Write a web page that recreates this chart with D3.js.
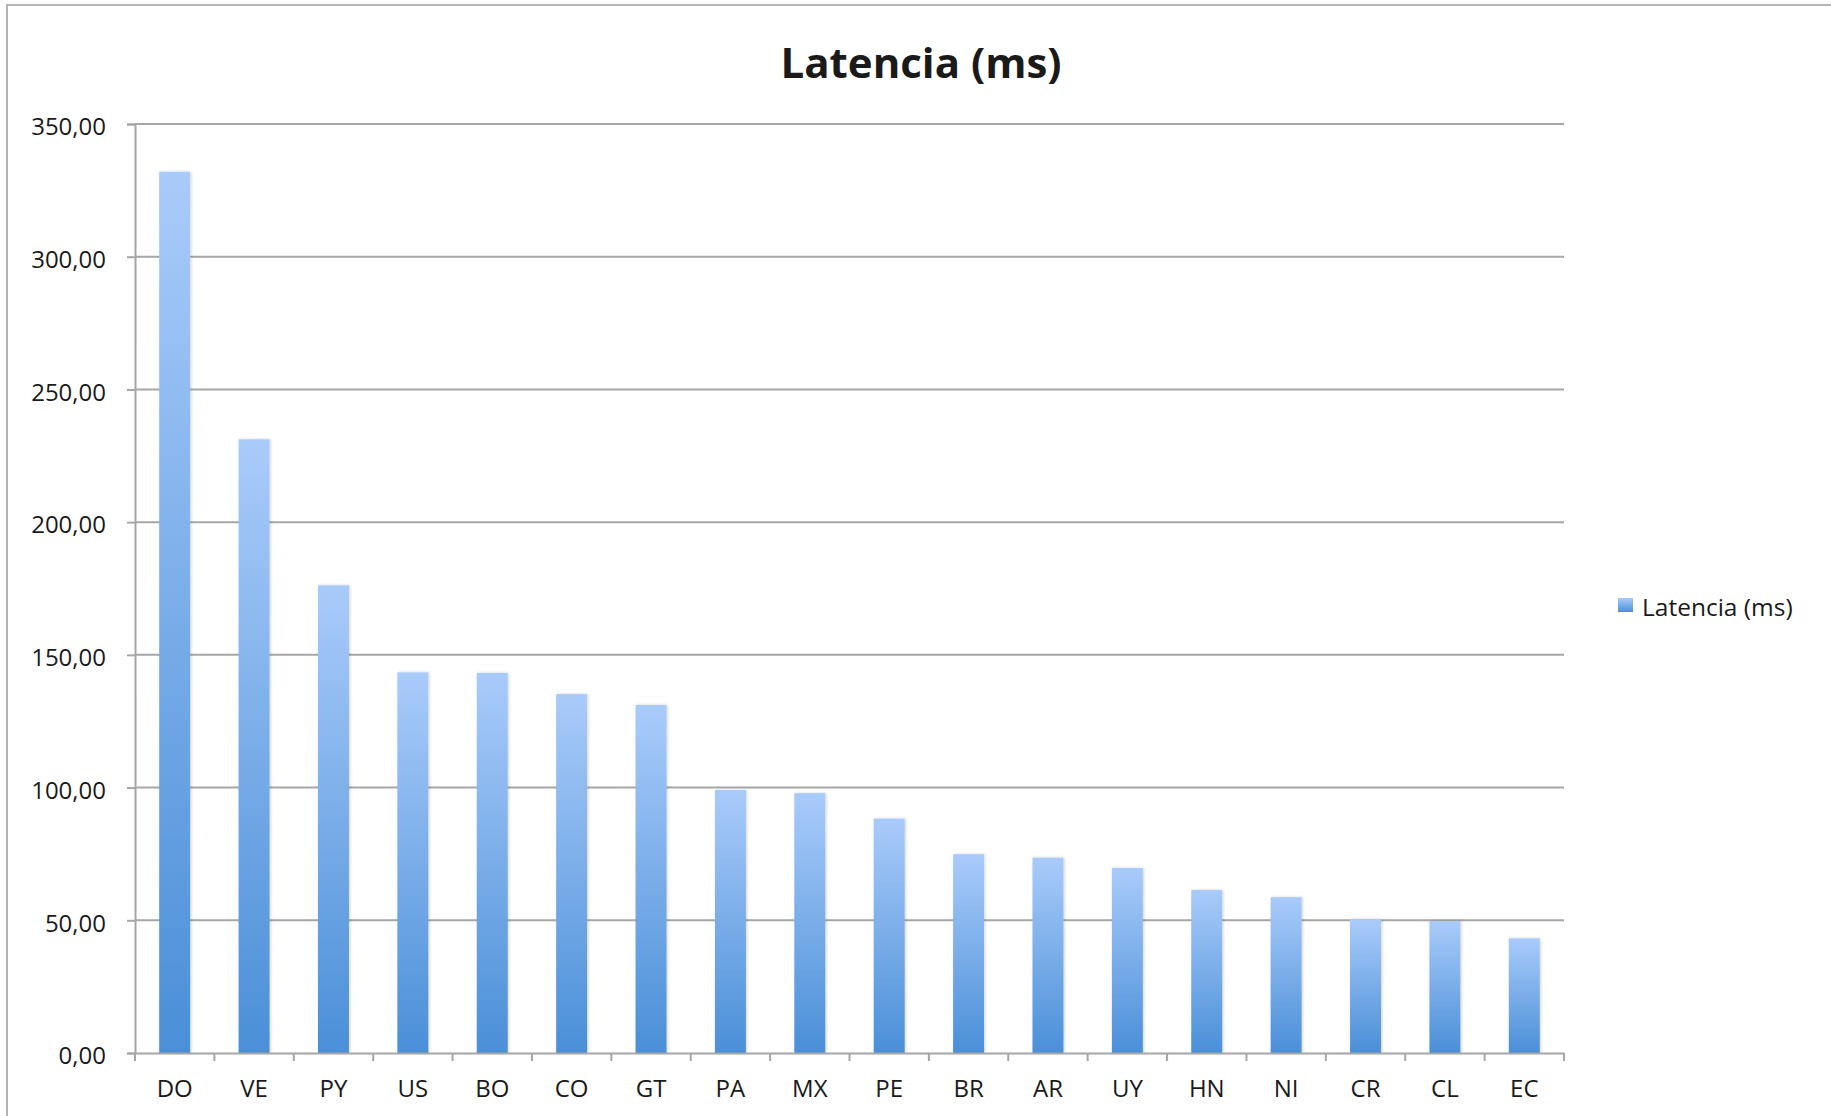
<!DOCTYPE html>
<html lang="es">
  <head>
    <meta charset="UTF-8" />
    <title>Latencia (ms)</title>
    <script src="https://cdn.jsdelivr.net/npm/d3@7"></script>
    <style>
      html,
      body {
        margin: 0;
        background: #ffffff;
      }
      #chart {
        width: 1831px;
        height: 1116px;
      }
      text {
        font-family: "Open Sans", "DejaVu Sans", sans-serif;
        fill: #1a1a1a;
      }
    </style>
  </head>
  <body>
    <div id="chart"></div>
    <script>
      // datos
      const paises = ["DO", "VE", "PY", "US", "BO", "CO", "GT", "PA", "MX",
        "PE", "BR", "AR", "UY", "HN", "NI", "CR", "CL", "EC"];
      const latencia = [332.0, 231.2, 176.2, 143.4, 143.2, 135.2, 131.1, 99.1,
        97.9, 88.3, 74.9, 73.6, 69.7, 61.4, 58.7, 50.4, 49.7, 43.2];
      const yTicks = [0, 50, 100, 150, 200, 250, 300, 350];
      const titulo = "Latencia (ms)";
      const serie = "Latencia (ms)";

      const width = 1831;
      const height = 1116;
      const plot = { left: 135, right: 1564, top: 124, bottom: 1053 };

      const es = d3.formatLocale({ decimal: ",", thousands: ".", grouping: [3], currency: ["", "€"] });
      const fmt = es.format(".2f");

      const svg = d3
        .select("#chart")
        .append("svg")
        .attr("width", width)
        .attr("height", height);

      const defs = svg.append("defs");
      const grad = defs
        .append("linearGradient")
        .attr("id", "barGrad")
        .attr("x1", 0)
        .attr("y1", 0)
        .attr("x2", 0)
        .attr("y2", 1);
      grad.append("stop").attr("offset", "0%").attr("stop-color", "#a9cbfa");
      grad.append("stop").attr("offset", "100%").attr("stop-color", "#4a8fd8");

      const legGrad = defs
        .append("linearGradient")
        .attr("id", "legGrad")
        .attr("x1", 0)
        .attr("y1", 0)
        .attr("x2", 0)
        .attr("y2", 1);
      legGrad.append("stop").attr("offset", "0%").attr("stop-color", "#a9cbfa");
      legGrad.append("stop").attr("offset", "100%").attr("stop-color", "#4a8fd8");

      const shadow = defs
        .append("filter")
        .attr("id", "shadow")
        .attr("x", "-20%")
        .attr("y", "-5%")
        .attr("width", "140%")
        .attr("height", "110%");
      shadow
        .append("feDropShadow")
        .attr("dx", 1)
        .attr("dy", 0)
        .attr("stdDeviation", 1.5)
        .attr("flood-color", "#000")
        .attr("flood-opacity", 0.18);

      // marco exterior
      svg
        .append("rect")
        .attr("x", 7)
        .attr("y", 5)
        .attr("width", width + 10)
        .attr("height", height + 10)
        .attr("fill", "none")
        .attr("stroke", "#b4b4b4")
        .attr("stroke-width", 2);

      const x = d3
        .scaleBand()
        .domain(paises)
        .range([plot.left, plot.right])
        .paddingInner(0)
        .paddingOuter(0);

      const y = d3.scaleLinear().domain([0, 350]).range([plot.bottom, plot.top]);

      // rejilla
      svg
        .append("g")
        .selectAll("line")
        .data(yTicks.filter((d) => d > 0))
        .join("line")
        .attr("x1", plot.left)
        .attr("x2", plot.right)
        .attr("y1", (d) => y(d))
        .attr("y2", (d) => y(d))
        .attr("stroke", "#a6a6a6")
        .attr("stroke-width", 2);

      // barras
      const barW = x.bandwidth() * 0.39;
      svg
        .append("g")
        .selectAll("rect")
        .data(paises.map((p, i) => ({ p, v: latencia[i] })))
        .join("rect")
        .attr("x", (d) => x(d.p) + (x.bandwidth() - barW) / 2)
        .attr("y", (d) => y(d.v))
        .attr("width", barW)
        .attr("height", (d) => y(0) - y(d.v))
        .attr("fill", "url(#barGrad)")
        .attr("filter", "url(#shadow)");

      // eje Y
      const yAxis = svg
        .append("g")
        .attr("transform", `translate(${plot.left},0)`)
        .call(
          d3
            .axisLeft(y)
            .tickValues(yTicks)
            .tickFormat(fmt)
            .tickSize(8)
            .tickPadding(21)
        );
      yAxis.select(".domain").attr("stroke", "#a6a6a6").attr("stroke-width", 2);
      yAxis.selectAll(".tick line").attr("stroke", "#a6a6a6").attr("stroke-width", 2);
      yAxis
        .selectAll(".tick text")
        .attr("font-size", 24)
        .attr("dy", "0.45em")
        .style("font-family", '"Open Sans", sans-serif')
        .attr("fill", "#1a1a1a");

      // eje X
      const xAxis = svg
        .append("g")
        .attr("transform", `translate(0,${plot.bottom})`)
        .call(d3.axisBottom(x).tickSize(0).tickPadding(27));
      xAxis.select(".domain").attr("stroke", "#a6a6a6").attr("stroke-width", 2);
      xAxis.selectAll(".tick line").remove();
      xAxis
        .selectAll(".tick text")
        .attr("font-size", 24)
        .style("font-family", '"Open Sans", sans-serif')
        .attr("fill", "#1a1a1a");

      // marcas entre categorías
      const bordes = paises.map((p) => x(p)).concat([plot.right]);
      svg
        .append("g")
        .selectAll("line")
        .data(bordes)
        .join("line")
        .attr("x1", (d) => d)
        .attr("x2", (d) => d)
        .attr("y1", plot.bottom)
        .attr("y2", plot.bottom + 8)
        .attr("stroke", "#a6a6a6")
        .attr("stroke-width", 2);

      // título
      svg
        .append("text")
        .attr("x", 921)
        .attr("y", 78)
        .attr("text-anchor", "middle")
        .attr("font-size", 42)
        .attr("font-weight", "bold")
        .attr("fill", "#000")
        .text(titulo);

      // leyenda
      const leg = svg.append("g").attr("transform", "translate(1618,598)");
      leg
        .append("rect")
        .attr("width", 15)
        .attr("height", 14)
        .attr("fill", "url(#legGrad)");
      leg
        .append("text")
        .attr("x", 24)
        .attr("y", 18)
        .attr("font-size", 24.5)
        .text(serie);
    </script>
  </body>
</html>
